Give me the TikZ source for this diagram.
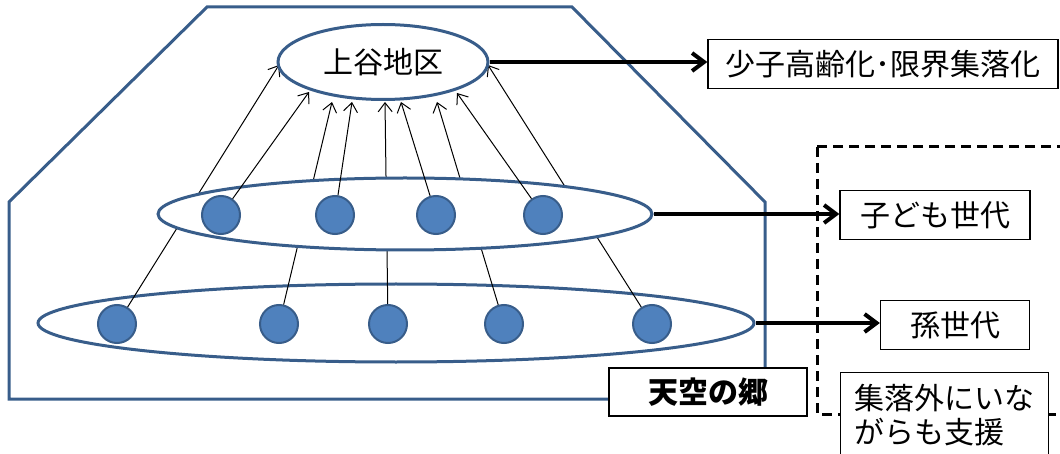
\documentclass[tikz,border=0pt]{standalone}
\usepackage{fontspec}
\setmainfont{Noto Sans CJK JP}
\usetikzlibrary{shapes.geometric,arrows.meta}
\definecolor{pptline}{RGB}{56,93,138}
\definecolor{pptfill}{RGB}{79,129,189}
\tikzset{
        person/.style={circle, draw=pptline, line width=1pt, fill=pptfill, inner sep=0pt, minimum size=19pt},
        group/.style={ellipse, draw=pptline, line width=1.5pt, fill=white, inner sep=0pt},
        box/.style={draw=black, line width=0.6pt, fill=white, inner sep=0pt, font=\fontsize{15}{17}\selectfont},
        link/.style={-{Straight Barb[length=4.5pt,width=7pt]}, line width=0.5pt},
        trend/.style={-{Straight Barb[length=6pt,width=9pt]}, line width=2pt},
        village/.style={draw=pptline, line width=1.5pt},
        support/.style={draw=black, line width=1.5pt, dash pattern=on 5pt off 3pt}
          }
\begin{document}
\begin{tikzpicture}[x=0.5pt, y=-0.5pt]
        \useasboundingbox (0,0) rectangle (1060,454);
        % the village area and the support frame
        \draw[village] (9,202) -- (207,7) -- (572,7) -- (765,202) -- (765,399) -- (9,399) -- cycle;
        \draw[support] (817,147) rectangle (1075,414);
        % grandchildren
        \node[group, minimum width=358pt, minimum height=39pt] (grands) at (396,323) {};
        \foreach \x [count=\i] in {117,279,388,504,652}
          \node[person] (g\i) at (\x,324) {};
        \foreach \x/\y [count=\i] in {279/65,309/92,332/102,352/102,385/102,401/102,437/102,457/93,488/65}
          \coordinate (tip\i) at (\x,\y);
        \foreach \i/\t in {1/1,2/3,3/5,4/7,5/9}
          \draw[link] (g\i) -- (tip\t);
        % children
        \node[group, minimum width=247pt, minimum height=36pt] (kids) at (405,214) {};
        \foreach \x [count=\i] in {221,335,436,543}
          \node[person] (k\i) at (\x,215) {};
        \foreach \i/\t in {1/2,2/4,3/6,4/8}
          \draw[link] (k\i) -- (tip\t);
        \node[group, minimum width=105pt, minimum height=37.5pt, font=\fontsize{15}{17}\selectfont] (kami) at (383,62) {上谷地区};
        % boxes
        \node[box, minimum width=175pt, minimum height=24.5pt] (aging) at (883,64) {少子高齢化･限界集落化};
        \node[box, minimum width=95pt, minimum height=24.5pt] (kidbox) at (935,215) {子ども世代};
        \node[box, minimum width=74.5pt, minimum height=24.5pt] (grandbox) at (955,325) {孫世代};
        \node[box, minimum width=99pt, minimum height=24pt, font=\fontsize{15}{17}\selectfont\bfseries] (tenku) at (708,392) {天空の郷};
        \node[box, anchor=north west, align=left, minimum width=104pt, inner ysep=6pt] (outside) at (840,372) {集落外にいな\\がらも支援};
        \draw[trend] (kami.east) -- (kami.east -| aging.west);
        \draw[trend] (kids.east) -- (kids.east -| kidbox.west);
        \draw[trend] (grands.east) -- (grands.east -| grandbox.west);
\end{tikzpicture}
\end{document}
